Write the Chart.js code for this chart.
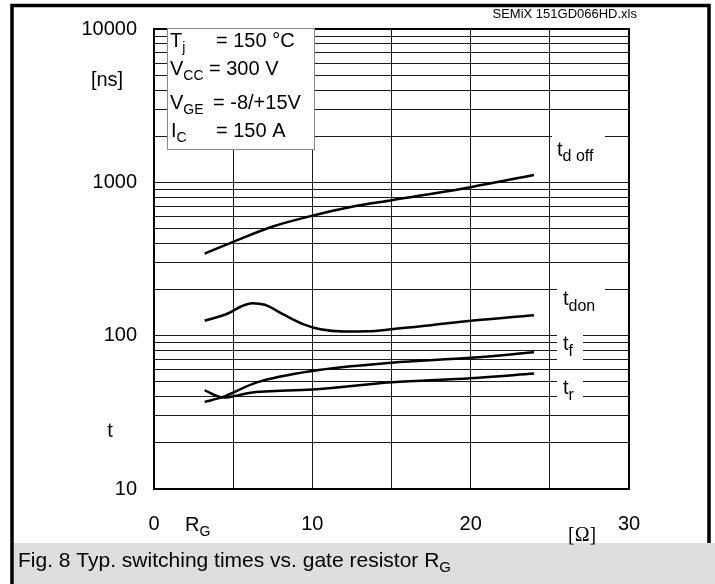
<!DOCTYPE html>
<html>
<head>
<meta charset="utf-8">
<script src="https://cdn.jsdelivr.net/npm/chart.js@4.4.0/dist/chart.umd.min.js"></script>
<style>
html, body { margin: 0; padding: 0; background: #fff; }
#wrap { position: relative; width: 715px; height: 584px; }
</style>
</head>
<body>
<div id="wrap"><canvas id="graficaRG" width="715" height="584"></canvas></div>
<script>
// --- DATOS ---
const tdOffRg = [3.2, 5, 7.5, 10, 12.5, 15, 20, 24];
const tdOffNs = [343, 409, 515, 606, 692, 764, 930, 1117];

const tdOnRg = [3.2, 4.7, 5.5, 6.2, 7, 8.2, 9.5, 10.5, 12, 13.5, 15, 17.5, 20, 24];
const tdOnNs = [125, 140, 155, 163, 159, 137, 118, 110, 106.5, 106.8, 110, 117, 125, 136];

const tfRg = [3.2, 4.3, 6.5, 10, 15, 20, 24];
const tfNs = [37, 39.7, 49.6, 58.9, 66.6, 71.7, 78];

const trRg = [3.2, 4.4, 5.3, 6, 10, 15, 20, 24];
const trNs = [44, 39.5, 40.8, 42.3, 44.5, 49.6, 52.8, 56.6];

// rejilla y etiquetas de los ejes
const xGrid = [0, 5, 10, 15, 20, 25, 30];
const xLabels = [0, 10, 20, 30];
const yGrid = [10, 20, 30, 40, 50, 60, 70, 80, 90,
               100, 200, 300, 400, 500, 600, 700, 800, 900,
               1000, 2000, 3000, 4000, 5000, 6000, 7000, 8000, 9000, 10000];
const yLabels = [10, 100, 1000, 10000];

const FONT = '"Liberation Sans", Arial, Helvetica, sans-serif';

function serie(xs, ys) {
    return { data: xs.map((x, i) => ({ x: x, y: ys[i] })) };
}

// texto con subíndice, devuelve x final
function sub(ctx, main, s, x, y, size, subSize, drop) {
    ctx.font = size + 'px ' + FONT;
    ctx.fillText(main, x, y);
    x += ctx.measureText(main).width;
    ctx.font = subSize + 'px ' + FONT;
    ctx.fillText(s, x, y + drop);
    return x + ctx.measureText(s).width;
}

// --- DECORACIÓN: marco, leyenda, rótulos ---
const decoracion = {
    id: 'decoracion',
    afterDraw(chart) {
        const ctx = chart.ctx;
        const a = chart.chartArea;
        ctx.save();

        // marco del área de trazado
        ctx.strokeStyle = '#000';
        ctx.lineWidth = 2;
        ctx.strokeRect(a.left, a.top, a.right - a.left, a.bottom - a.top);

        // cuadro de condiciones
        ctx.fillStyle = '#fff';
        ctx.fillRect(167, 28, 147, 121);
        ctx.strokeStyle = '#888';
        ctx.lineWidth = 1;
        ctx.strokeRect(167.5, 28.5, 147, 121);

        ctx.fillStyle = '#000';
        ctx.textAlign = 'left';
        ctx.textBaseline = 'alphabetic';
        sub(ctx, 'T', 'j', 170, 47, 20, 14, 5);
        ctx.font = '20px ' + FONT;
        ctx.fillText('= 150 °C', 216, 47);
        sub(ctx, 'V', 'CC', 170, 75, 20, 14, 5);
        ctx.font = '20px ' + FONT;
        ctx.fillText('= 300 V', 209, 75);
        sub(ctx, 'V', 'GE', 170, 109, 20, 14, 5);
        ctx.font = '20px ' + FONT;
        ctx.fillText('= -8/+15V', 213, 109);
        sub(ctx, 'I', 'C', 171, 137, 20, 14, 5);
        ctx.font = '20px ' + FONT;
        ctx.fillText('= 150 A', 216, 137);

        // rótulos de las curvas (fondo blanco sobre la rejilla)
        ctx.fillStyle = '#fff';
        ctx.fillRect(552, 120, 53, 52);
        ctx.fillRect(557, 276, 48, 44);
        ctx.fillRect(557, 328, 26, 34);
        ctx.fillRect(557, 374, 26, 28);
        ctx.fillStyle = '#000';
        sub(ctx, 't', 'd off', 557, 156, 20, 16, 5);
        sub(ctx, 't', 'don', 563, 305, 20, 16, 6);
        sub(ctx, 't', 'f', 563, 350, 20, 16, 6);
        sub(ctx, 't', 'r', 563, 394, 20, 16, 6);

        // marco exterior y pie
        ctx.fillStyle = '#dedede';
        ctx.fillRect(14, 543, 701, 41);
        ctx.strokeStyle = '#000';
        ctx.lineWidth = 3.5;
        ctx.beginPath();
        ctx.moveTo(12, 584);
        ctx.lineTo(12, 5.5);
        ctx.lineTo(709, 5.5);
        ctx.lineTo(709, 543);
        ctx.stroke();

        // unidades de los ejes
        ctx.fillStyle = '#000';
        ctx.font = '20px ' + FONT;
        ctx.textAlign = 'center';
        ctx.textBaseline = 'middle';
        ctx.fillText('[ns]', 107, 80);
        ctx.fillText('t', 110, 431);
        ctx.textAlign = 'left';
        ctx.textBaseline = 'alphabetic';
        sub(ctx, 'R', 'G', 185, 531, 20, 14, 5);
        ctx.font = '20px "Liberation Serif", "Times New Roman", serif';
        ctx.fillText('[Ω]', 568, 541);

        // nombre del fichero
        ctx.font = '13px ' + FONT;
        ctx.textAlign = 'right';
        ctx.fillText('SEMiX 151GD066HD.xls', 637, 18);

        ctx.textAlign = 'left';
        sub(ctx, 'Fig. 8 Typ. switching times vs. gate resistor R', 'G', 18, 567, 21, 15, 5);
        ctx.restore();
    }
};

// --- GRÁFICA ---
const ctxRG = document.getElementById('graficaRG').getContext('2d');
new Chart(ctxRG, {
    type: 'line',
    data: {
        datasets: [
            serie(tdOffRg, tdOffNs),
            serie(tdOnRg, tdOnNs),
            serie(tfRg, tfNs),
            serie(trRg, trNs)
        ]
    },
    options: {
        responsive: false,
        animation: false,
        layout: { padding: { left: 0, top: 21, right: 86, bottom: 35 } },
        plugins: { legend: { display: false }, tooltip: { enabled: false } },
        elements: {
            point: { radius: 0 },
            line: { borderColor: '#000', borderWidth: 2.5, cubicInterpolationMode: 'monotone', fill: false }
        },
        scales: {
            x: {
                type: 'linear',
                min: 0,
                max: 30,
                afterBuildTicks: s => { s.ticks = xGrid.map(v => ({ value: v })); },
                afterFit: s => { s.height = 60; },
                grid: { color: '#1a1a1a', lineWidth: 1, drawTicks: false },
                border: { display: false },
                ticks: {
                    color: '#000',
                    padding: 23,
                    autoSkip: false,
                    maxRotation: 0,
                    font: { family: FONT, size: 20 },
                    callback: v => xLabels.includes(v) ? String(v) : ''
                }
            },
            y: {
                type: 'logarithmic',
                min: 10,
                max: 10000,
                afterBuildTicks: s => { s.ticks = yGrid.map(v => ({ value: v })); },
                afterFit: s => { s.width = 154; },
                grid: { color: '#1a1a1a', lineWidth: 1, drawTicks: false },
                border: { display: false },
                ticks: {
                    color: '#000',
                    padding: 17,
                    autoSkip: false,
                    font: { family: FONT, size: 20 },
                    callback: v => yLabels.includes(v) ? String(v) : ''
                }
            }
        }
    },
    plugins: [decoracion]
});
</script>
</body>
</html>
